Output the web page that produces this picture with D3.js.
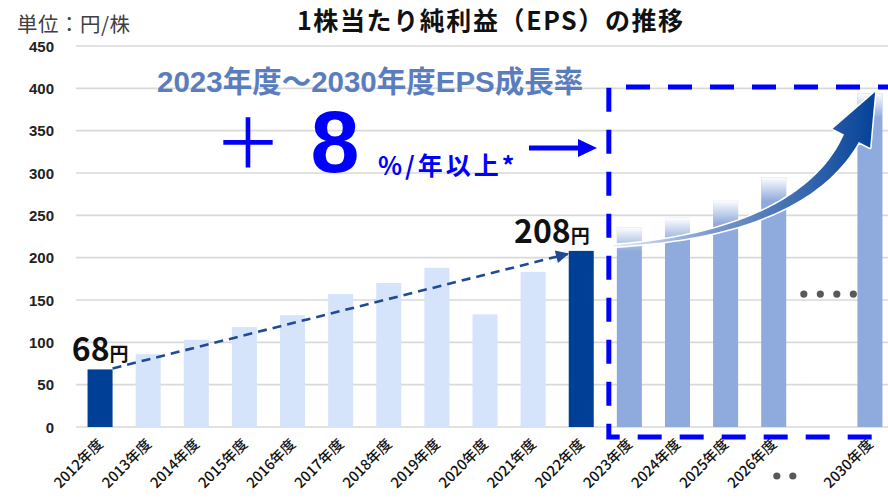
<!DOCTYPE html>
<html>
<head>
<meta charset="utf-8">
<script src="https://cdn.jsdelivr.net/npm/d3@7"></script>
<style>
  body { margin: 0; background: #fff; }
  svg { display: block; }
</style>
</head>
<body>
<div id="chart"></div>
<script>
// Data
const years = ["2012年度","2013年度","2014年度","2015年度","2016年度","2017年度","2018年度","2019年度",
  "2020年度","2021年度","2022年度","2023年度","2024年度","2025年度","2026年度","gap","2030年度"];
const eps = [68, 86, 103, 118, 132, 157, 170, 188, 133, 183, 208, 236, 247, 268, 295, null, 394];
// actual highlighted / actual / plan
const kinds = ["hi","act","act","act","act","act","act","act","act","act","hi","plan","plan","plan","plan",null,"plan"];
const yTicks = [0, 50, 100, 150, 200, 250, 300, 350, 400, 450];

const W = 888, H = 499;
const colors = { hi: "#003f96", act: "#d5e4fa", plan: "#8faadc" };
const jp = "'Noto Sans CJK JP', 'Noto Sans', sans-serif";
const arial = "'Liberation Sans', Arial, 'Noto Sans CJK JP', sans-serif";

const svg = d3.select("#chart").append("svg")
  .attr("width", W).attr("height", H);

const defs = svg.append("defs");

const x = d3.scaleBand().domain(years).range([76, 894]).paddingInner(0.48).paddingOuter(0.24);
const y = d3.scaleLinear().domain([0, 450]).range([427, 46]);

// grid
svg.append("g").selectAll("line").data(yTicks).join("line")
  .attr("x1", 76).attr("x2", W)
  .attr("y1", d => y(d)).attr("y2", d => y(d))
  .attr("stroke", "#d9d9d9").attr("stroke-width", 1.6);

// y labels
svg.append("g").selectAll("text").data(yTicks).join("text")
  .attr("x", 54).attr("y", d => y(d) + 5.5)
  .attr("text-anchor", "end")
  .attr("font-family", arial).attr("font-weight", "bold").attr("font-size", 15)
  .attr("fill", "#222")
  .text(d => d);

// fade for plan bars
const fade = defs.append("linearGradient").attr("id", "fade")
  .attr("x1", 0).attr("y1", 0).attr("x2", 0).attr("y2", 1);
fade.append("stop").attr("offset", "0%").attr("stop-color", "#fff").attr("stop-opacity", 1);
fade.append("stop").attr("offset", "100%").attr("stop-color", "#fff").attr("stop-opacity", 0);

const barData = years.map((d, i) => ({ year: d, v: eps[i], kind: kinds[i] })).filter(d => d.v != null);

svg.append("g").selectAll("rect").data(barData).join("rect")
  .attr("x", d => x(d.year)).attr("width", x.bandwidth())
  .attr("y", d => y(d.v)).attr("height", d => y(0) - y(d.v))
  .attr("fill", d => colors[d.kind]);

svg.append("g").selectAll("rect").data(barData.filter(d => d.kind === "plan")).join("rect")
  .attr("x", d => x(d.year)).attr("width", x.bandwidth())
  .attr("y", d => y(d.v)).attr("height", 24)
  .attr("fill", "url(#fade)");

// x labels
svg.append("g").selectAll("text").data(years.filter(d => d !== "gap")).join("text")
  .attr("transform", d => `translate(${x(d) + x.bandwidth() / 2 + 4},${445}) rotate(-45)`)
  .attr("text-anchor", "end")
  .attr("font-family", jp).attr("font-size", 14.5).attr("font-weight", 500)
  .attr("fill", "#111")
  .text(d => d);

// dots for the skipped years
const gx = x("gap") + x.bandwidth() / 2;
svg.append("g").selectAll("circle").data([0, 1, 2, 3]).join("circle")
  .attr("cx", d => gx - 18 + d * 16.5).attr("cy", y(157))
  .attr("r", 3.6).attr("fill", "#595959");
svg.append("g").selectAll("circle").data([0, 1]).join("circle")
  .attr("cx", d => gx - 45 + d * 16).attr("cy", 476)
  .attr("r", 3.6).attr("fill", "#595959");

// dashed trend arrow 2012 -> 2022
defs.append("marker").attr("id", "headDark")
  .attr("viewBox", "0 0 10 10").attr("refX", 9).attr("refY", 5)
  .attr("markerWidth", 6).attr("markerHeight", 5).attr("orient", "auto")
  .attr("markerUnits", "strokeWidth")
  .append("path").attr("d", "M0,0 L10,5 L0,10 z").attr("fill", "#1e4b94");

svg.append("line")
  .attr("x1", x("2012年度") + x.bandwidth()).attr("y1", y(eps[0]) - 1)
  .attr("x2", x("2022年度") - 1).attr("y2", y(eps[10]) + 3)
  .attr("stroke", "#1e4b94").attr("stroke-width", 2.6)
  .attr("stroke-dasharray", "9,6")
  .attr("marker-end", "url(#headDark)");

// value labels
function valueLabel(year, v, dx) {
  const t = svg.append("text")
    .attr("x", x(year) + x.bandwidth() + dx).attr("y", y(v) - 8)
    .attr("text-anchor", "end")
    .attr("font-family", jp).attr("font-weight", "bold").attr("fill", "#111");
  t.append("tspan").attr("font-size", 32).text(v);
  t.append("tspan").attr("font-size", 19).text("円");
}
valueLabel("2012年度", eps[0], 16);
valueLabel("2022年度", eps[10], -4);

// dashed frame around plan
const fx0 = x("2023年度") - 8, fy0 = 87, fy1 = 437;
svg.append("path")
  .attr("d", `M${W + 4},${fy0} L${fx0},${fy0} L${fx0},${fy1} L${W + 4},${fy1}`)
  .attr("fill", "none").attr("stroke", "#0000ff").attr("stroke-width", 5)
  .attr("stroke-dasharray", "24,18").attr("stroke-dashoffset", 10);

// growth arrow (curved, gradient)
const grad = defs.append("linearGradient").attr("id", "arrowGrad")
  .attr("gradientUnits", "userSpaceOnUse")
  .attr("x1", 614).attr("y1", 0).attr("x2", 880).attr("y2", 0);
grad.append("stop").attr("offset", "0%").attr("stop-color", "#e4ebf6");
grad.append("stop").attr("offset", "35%").attr("stop-color", "#7f9cce");
grad.append("stop").attr("offset", "100%").attr("stop-color", "#003f96");

const P0 = [x("2023年度") - 3, y(214)];
const C1 = [x("2023年度") + 113, y(223)];
const C2 = [x("gap") + 8, y(262)];
const P1 = [x("2030年度") - 6, y(341)];
function bez(t) {
  const u = 1 - t;
  return [0, 1].map(k => u*u*u*P0[k] + 3*u*u*t*C1[k] + 3*u*t*t*C2[k] + t*t*t*P1[k]);
}
function bezD(t) {
  const u = 1 - t;
  return [0, 1].map(k => 3*u*u*(C1[k]-P0[k]) + 6*u*t*(C2[k]-C1[k]) + 3*t*t*(P1[k]-C2[k]));
}
const upper = [], lower = [];
d3.range(0, 1.0001, 0.02).forEach(t => {
  const p = bez(t), d = bezD(t);
  const len = Math.hypot(d[0], d[1]);
  const n = [-d[1] / len, d[0] / len];
  const w = 0.8 + 7.5 * Math.pow(t, 1.4);
  upper.push([p[0] - n[0] * w, p[1] - n[1] * w]);
  lower.push([p[0] + n[0] * w, p[1] + n[1] * w]);
});
const dEnd = bezD(1), le = Math.hypot(dEnd[0], dEnd[1]);
const dir = [dEnd[0] / le, dEnd[1] / le], nrm = [-dir[1], dir[0]];
const hw = 21, hl = 52;
const head = [
  [P1[0] - nrm[0] * hw, P1[1] - nrm[1] * hw],
  [P1[0] + dir[0] * hl, P1[1] + dir[1] * hl],
  [P1[0] + nrm[0] * hw, P1[1] + nrm[1] * hw]
];
const pts = upper.concat([head[0], head[1], head[2]]).concat(lower.slice().reverse());
svg.append("path")
  .attr("d", "M" + pts.map(p => p.map(v => v.toFixed(1)).join(",")).join("L") + "Z")
  .attr("fill", "url(#arrowGrad)")
  .attr("stroke", "#fff").attr("stroke-width", 3).attr("stroke-linejoin", "round")
  .attr("paint-order", "stroke");

// unit + title
svg.append("text").attr("x", 17).attr("y", 32)
  .attr("font-family", jp).attr("font-size", 20.5).attr("fill", "#404040")
  .attr("letter-spacing", 0.5)
  .text("単位：円/株");
svg.append("text").attr("x", 297).attr("y", 30)
  .attr("font-family", jp).attr("font-weight", "bold").attr("font-size", 25).attr("fill", "#111")
  .attr("letter-spacing", 1.6)
  .text("1株当たり純利益（EPS）の推移");

// growth rate message
svg.append("text").attr("x", 157).attr("y", 92)
  .attr("font-family", arial).attr("font-weight", "bold").attr("font-size", 29.5).attr("fill", "#5a7dbe")
  .text("2023年度～2030年度EPS成長率");
svg.append("text").attr("x", 248).attr("y", 168).attr("text-anchor", "middle")
  .attr("font-family", jp).attr("font-size", 68).attr("fill", "#0000ff")
  .text("＋");
svg.append("text").attr("x", 335).attr("y", 172).attr("text-anchor", "middle")
  .attr("font-family", arial).attr("font-weight", "bold").attr("font-size", 88).attr("fill", "#0000ff")
  .text("8");
svg.append("text").attr("x", 378).attr("y", 175)
  .attr("font-family", jp).attr("font-weight", "bold").attr("font-size", 25).attr("fill", "#0000ff")
  .attr("letter-spacing", 3)
  .text("%/年以上*");

// small pointer arrow towards the frame
svg.append("line").attr("x1", 529).attr("x2", 582).attr("y1", 148).attr("y2", 148)
  .attr("stroke", "#0000ff").attr("stroke-width", 5);
svg.append("path").attr("d", "M578,139 L597,148 L578,157 Z").attr("fill", "#0000ff");
</script>
</body>
</html>
